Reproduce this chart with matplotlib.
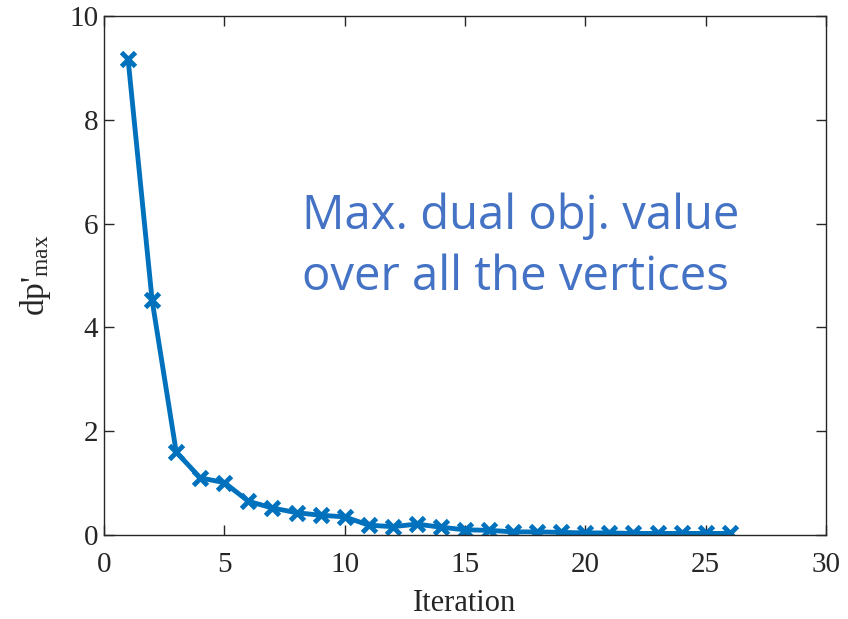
import matplotlib
matplotlib.use('Agg')
import matplotlib.pyplot as plt

# Data
iteration = list(range(1, 27))
dp_max = [9.17, 4.52, 1.60, 1.10, 1.01, 0.65, 0.52, 0.43, 0.38, 0.35,
          0.19, 0.16, 0.21, 0.15, 0.10, 0.09, 0.06, 0.06, 0.05, 0.04,
          0.04, 0.03, 0.03, 0.03, 0.03, 0.03]
x_ticks = [0, 5, 10, 15, 20, 25, 30]
y_ticks = [0, 2, 4, 6, 8, 10]

plt.rcParams['font.family'] = 'Liberation Serif'
plt.rcParams['mathtext.fontset'] = 'custom'
plt.rcParams['mathtext.rm'] = 'Liberation Serif'
plt.rcParams['mathtext.it'] = 'Liberation Serif'

fig = plt.figure(figsize=(8.48, 6.19), dpi=100)
ax = fig.add_axes([104 / 848, 1 - 535 / 619, 722 / 848, 519 / 619])

ax.plot(iteration, dp_max, color='#0072BD', lw=3.5, marker='x',
        markersize=10, markeredgewidth=3.5)

ax.set_xlim(0, 30)
ax.set_ylim(0, 10)
ax.set_xticks(x_ticks)
ax.set_yticks(y_ticks)
ax.tick_params(direction='in', top=True, right=True, length=7,
               labelsize=21, colors='#262626', width=1)
ax.tick_params(axis='x', pad=12)
ax.tick_params(axis='y', pad=4)
for s in ax.spines.values():
    s.set_color('#262626')
    s.set_linewidth(1)

ax.set_xlabel('Iteration', fontsize=22, color='#262626', labelpad=8)
ax.set_ylabel(r"dp$'_{\rm max}$", fontsize=24, color='#262626', labelpad=12)

ax.text(0.274, 0.555, 'Max. dual obj. value\nover all the vertices',
        transform=ax.transAxes, fontsize=34, color='#4472C4',
        family='Open Sans', ha='left', va='center', linespacing=1.36)

fig.savefig('out.png', dpi=100)
